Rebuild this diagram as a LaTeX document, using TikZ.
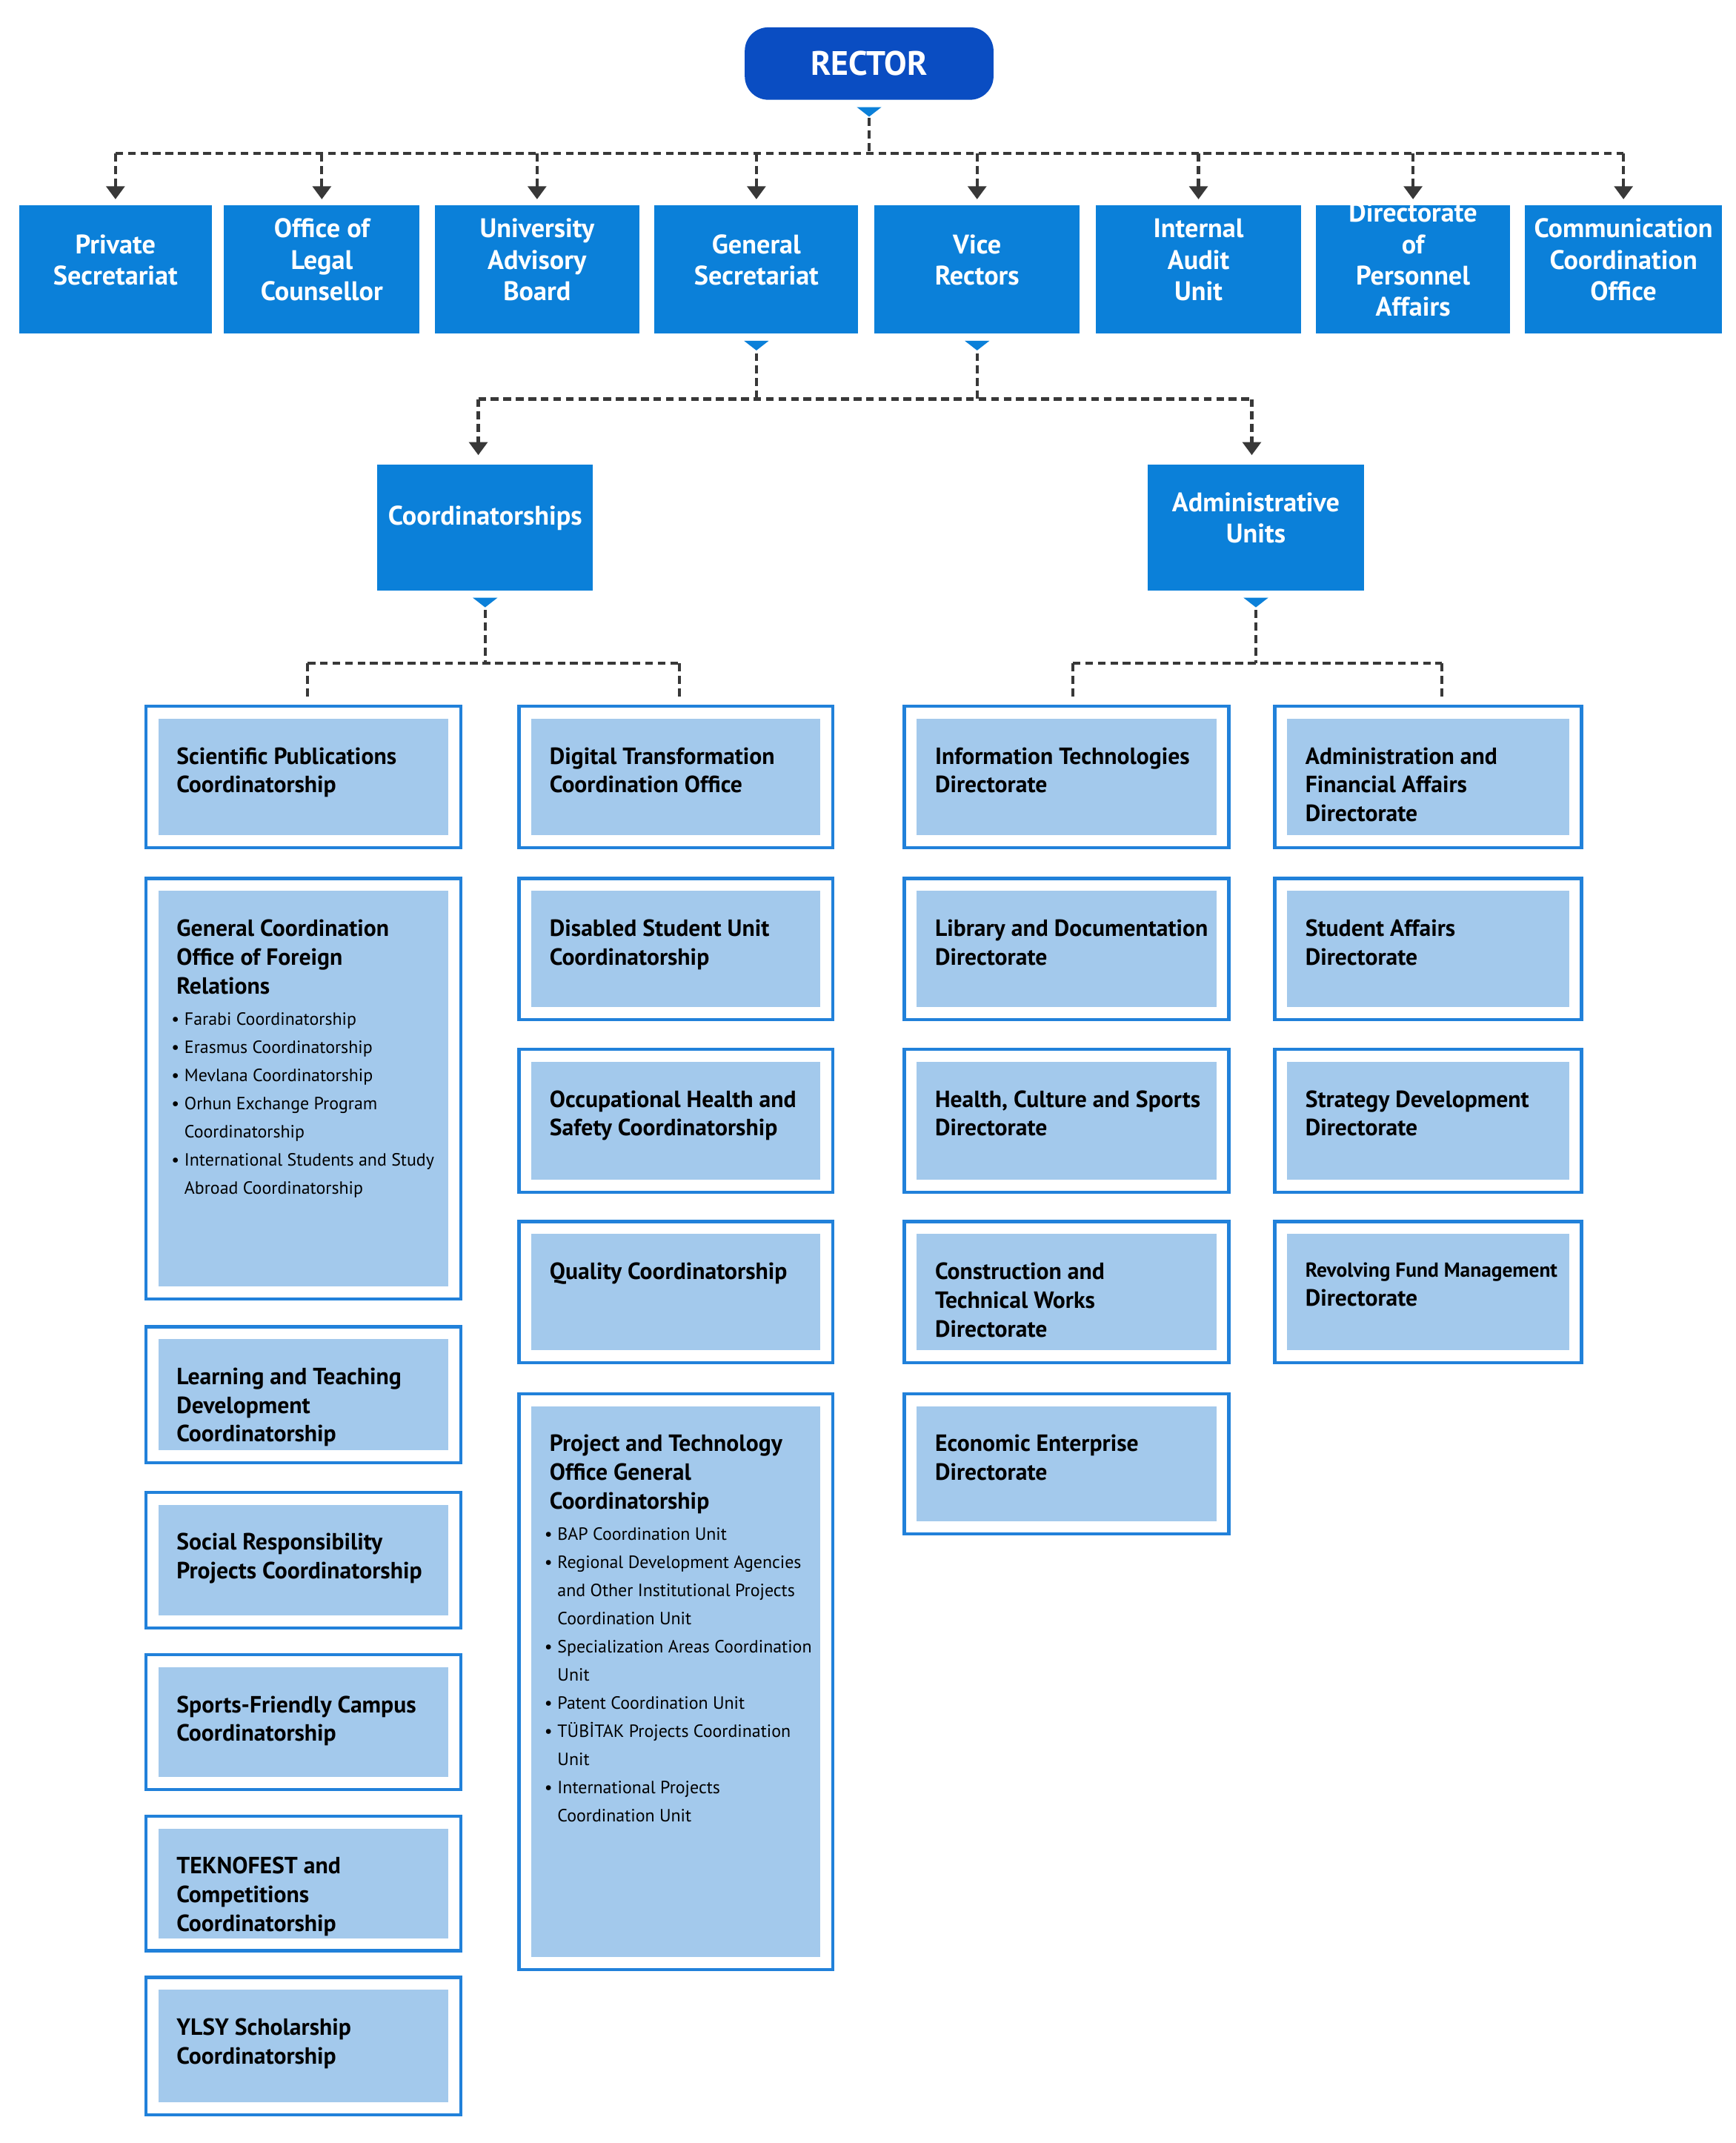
\documentclass[tikz,border=0pt]{standalone}
\usepackage{fontspec}
\setmainfont{PT Sans}
\usetikzlibrary{arrows.meta}
\usetikzlibrary{positioning}
\usetikzlibrary{calc}
\usetikzlibrary{fit}
\definecolor{rectorblue}{HTML}{0A4DC2}
\definecolor{topblue}{HTML}{0B80D9}
\definecolor{unitfill}{HTML}{A3C9EC}
\definecolor{unitline}{HTML}{2181DA}
\definecolor{linkgray}{HTML}{383838}
\tikzset{
  link/.style = {
    draw=linkgray,
    line width=1.2pt,
    dash pattern=on 3pt off 1.8pt
  },
  drop/.style = {
    link,
    -{Triangle[width=7pt,length=5pt]}
  },
  topunit/.style = {
    rectangle,
    fill=topblue,
    inner sep=0pt,
    text=white,
    align=center,
    font=\fontsize{10.3}{12}\selectfont\bfseries
  },
  unit/.style = {
    rectangle,
    fill=unitfill,
    draw=white,
    line width=4.2pt,
    inner sep=-3.1pt,
    preaction={draw=unitline, line width=6.6pt}
  },
  unittext/.style = {
    anchor=north west,
    inner sep=0pt,
    align=left,
    font=\fontsize{9}{11}\selectfont\bfseries
  }
}
\newcommand\orgunit[5]{%
  \node [unit, fit={(#2)(#3)}] (#1) {};
  \node [unittext] (#1-t) at ([xshift=11pt,yshift=-15pt]#1.north west) {#4#5};
}
\newcommand\subitems[1]{\\[1pt]\hspace*{-2pt}\begin{minipage}[t]{116pt}\fontsize{6.8}{10.8}\selectfont\mdseries\raggedright #1\end{minipage}}
\newcommand\bul[1]{\par\hangindent=5pt\hangafter=1\noindent\makebox[5pt][l]{\textbullet}#1}
\newcommand\pointer[1]{%
  \fill [topblue] ($(#1.south)+(-9,5)$) -- ++(18,0) -- ++(-9,7) -- cycle;
}

\begin{document}
\begin{tikzpicture}[x=0.01844cm,y=-0.01844cm]
  \useasboundingbox [fill=white] (0,0) rectangle (1270,1568);

  % rector
  \node [fill=rectorblue, rounded corners=9pt, inner sep=0pt, fit={(545,20)(727,73)}] (rector) {};
  \node [text=white, font=\fontsize{13}{14}\selectfont\bfseries] (rector-t) at (rector.center) {RECTOR};
  \pointer{rector}

  % first level
  \node [topunit, fit={(14,150)(155,244)}] (private) {Private\\Secretariat};
  \node [topunit, fit={(164,150)(307,244)}] (legal) {Office of\\Legal\\Counsellor};
  \node [topunit, fit={(318,150)(468,244)}] (advisory) {University\\Advisory\\Board};
  \node [topunit, fit={(479,150)(628,244)}] (gensec) {General\\Secretariat};
  \node [topunit, fit={(640,150)(790,244)}] (vice) {Vice\\Rectors};
  \node [topunit, fit={(802,150)(952,244)}] (audit) {Internal\\Audit\\Unit};
  \node [topunit, fit={(963,150)(1105,244)}] (personnel) {Directorate\\of\\Personnel Affairs};
  \node [topunit, fit={(1116,150)(1260,244)}] (communication) {Communication\\Coordination\\Office};

  \coordinate (rector-bus) at ($(rector.south)+(0,39)$);
  \draw [link] ($(rector.south)+(0,13)$) -- (rector-bus);
  \draw [link] (private.north |- rector-bus) -- (communication.north |- rector-bus);
  \foreach \n in {private,legal,advisory,gensec,vice,audit,personnel,communication}
    \draw [drop] (\n.north |- rector-bus) -- ([yshift=2pt]\n.north);

  % second level
  \node [topunit, fit={(276,340)(434,432)}] (coord) {Coordinatorships};
  \node [topunit, fit={(840,340)(998,432)}] (admin) {Administrative\\Units};
  \pointer{gensec}
  \pointer{vice}
  \coordinate (mid-bus) at (0,292);
  \draw [link] ($(gensec.south)+(0,14)$) -- (gensec.south |- mid-bus);
  \draw [link] ($(vice.south)+(0,14)$) -- (vice.south |- mid-bus);
  \draw [link] (350,292) -- (916,292);
  \draw [drop] (350,292) -- (350,333);
  \draw [drop] (916,292) -- (916,333);

  % coordinatorships
  \orgunit{sci}{106,516}{338,621}{Scientific Publications\\Coordinatorship}{}
  \orgunit{foreign}{106,642}{338,951}{General Coordination\\Office of Foreign\\Relations}{\subitems{%
    \bul{Farabi Coordinatorship}
    \bul{Erasmus Coordinatorship}
    \bul{Mevlana Coordinatorship}
    \bul{Orhun Exchange Program\newline Coordinatorship}
    \bul{International Students and Study\newline Abroad Coordinatorship}}}
  \orgunit{learning}{106,970}{338,1071}{Learning and Teaching\\Development\\Coordinatorship}{}
  \orgunit{social}{106,1091}{338,1192}{Social Responsibility\\Projects Coordinatorship}{}
  \orgunit{sports}{106,1210}{338,1310}{Sports-Friendly Campus\\Coordinatorship}{}
  \orgunit{teknofest}{106,1328}{338,1428}{TEKNOFEST and\\Competitions\\Coordinatorship}{}
  \orgunit{ylsy}{106,1446}{338,1548}{YLSY Scholarship\\Coordinatorship}{}

  \orgunit{digital}{379,516}{610,621}{Digital Transformation\\Coordination Office}{}
  \orgunit{disabled}{379,642}{610,747}{Disabled Student Unit\\Coordinatorship}{}
  \orgunit{safety}{379,767}{610,873}{Occupational Health and\\Safety Coordinatorship}{}
  \orgunit{quality}{379,893}{610,998}{Quality Coordinatorship}{}
  \orgunit{project}{379,1019}{610,1442}{Project and Technology\\Office General\\Coordinatorship}{\subitems{%
    \bul{BAP Coordination Unit}
    \bul{Regional Development Agencies\newline and Other Institutional Projects\newline Coordination Unit}
    \bul{Specialization Areas Coordination\newline Unit}
    \bul{Patent Coordination Unit}
    \bul{TÜBİTAK Projects Coordination\newline Unit}
    \bul{International Projects\newline Coordination Unit}}}

  % administrative units
  \orgunit{it}{661,516}{900,621}{Information Technologies\\Directorate}{}
  \orgunit{library}{661,642}{900,747}{Library and Documentation\\Directorate}{}
  \orgunit{health}{661,767}{900,873}{Health, Culture and Sports\\Directorate}{}
  \orgunit{construction}{661,893}{900,998}{Construction and\\Technical Works\\Directorate}{}
  \orgunit{economic}{661,1019}{900,1123}{Economic Enterprise\\Directorate}{}

  \orgunit{finance}{932,516}{1158,621}{Administration and\\Financial Affairs\\Directorate}{}
  \orgunit{student}{932,642}{1158,747}{Student Affairs\\Directorate}{}
  \orgunit{strategy}{932,767}{1158,873}{Strategy Development\\Directorate}{}
  \orgunit{revolving}{932,893}{1158,998}{\fontsize{7.8}{10.5}\selectfont Revolving Fund Management\\Directorate}{}

  % links to lower units
  \pointer{coord}
  \pointer{admin}
  \draw [link] ($(coord.south)+(0,14)$) -- ++(0,39) coordinate (coord-bus);
  \draw [link] (225,0 |- coord-bus) coordinate (coord-l) -- (497,0 |- coord-bus) coordinate (coord-r);
  \draw [link] (coord-l) -- ([yshift=3.4pt]coord-l |- sci.north);
  \draw [link] (coord-r) -- ([yshift=3.4pt]coord-r |- digital.north);
  \draw [link] ($(admin.south)+(0,14)$) -- ++(0,39) coordinate (admin-bus);
  \draw [link] (785,0 |- admin-bus) coordinate (admin-l) -- (1055,0 |- admin-bus) coordinate (admin-r);
  \draw [link] (admin-l) -- ([yshift=3.4pt]admin-l |- it.north);
  \draw [link] (admin-r) -- ([yshift=3.4pt]admin-r |- finance.north);
\end{tikzpicture}
\end{document}
